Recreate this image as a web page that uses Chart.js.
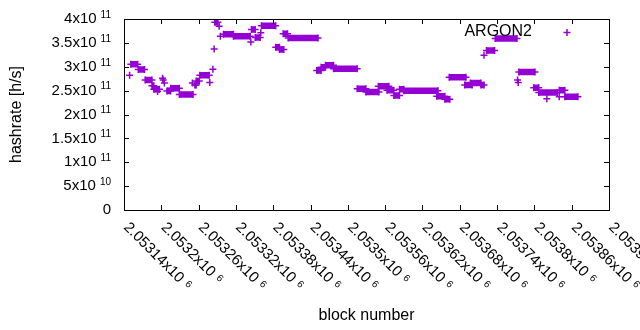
<!DOCTYPE html>
<html>
<head>
<meta charset="utf-8">
<script src="https://cdn.jsdelivr.net/npm/chart.js@4"></script>
<style>
html, body { margin: 0; padding: 0; background: #fff; }
</style>
</head>
<body>
<canvas id="hashChart" width="640" height="330"></canvas>
<script>
// series: runs of blocks sharing the same hashrate (start == end is a single block)
const seriesName = 'ARGON2';
const runStart = [2053149, 2053151, 2053163, 2053174, 2053185, 2053188, 2053194, 2053202, 2053203, 2053205,
  2053209, 2053215, 2053229, 2053250, 2053254, 2053256, 2053262, 2053278, 2053283, 2053285,
  2053286, 2053293, 2053295, 2053300, 2053316, 2053344, 2053345, 2053351, 2053360, 2053361,
  2053384, 2053390, 2053396, 2053404, 2053450, 2053457, 2053464, 2053477, 2053515, 2053529,
  2053549, 2053563, 2053574, 2053583, 2053590, 2053643, 2053656, 2053663, 2053688, 2053697,
  2053714, 2053719, 2053723, 2053737, 2053773, 2053774, 2053775, 2053799, 2053807, 2053820,
  2053840, 2053840, 2053849];
const runEnd = [2053149, 2053162, 2053173, 2053185, 2053188, 2053197, 2053194, 2053202, 2053203, 2053205,
  2053215, 2053229, 2053251, 2053250, 2053256, 2053261, 2053277, 2053278, 2053283, 2053285,
  2053291, 2053293, 2053295, 2053316, 2053343, 2053344, 2053351, 2053359, 2053360, 2053384,
  2053390, 2053397, 2053403, 2053452, 2053457, 2053464, 2053477, 2053515, 2053529, 2053550,
  2053566, 2053574, 2053583, 2053590, 2053645, 2053656, 2053664, 2053690, 2053700, 2053714,
  2053719, 2053719, 2053736, 2053772, 2053773, 2053774, 2053801, 2053807, 2053837, 2053820,
  2053840, 2053849, 2053870];
const runRate = [2.82e11, 3.05e11, 2.94e11, 2.72e11, 2.60e11, 2.53e11, 2.48e11, 2.76e11, 2.72e11, 2.66e11,
  2.49e11, 2.55e11, 2.42e11, 2.66e11, 2.62e11, 2.70e11, 2.82e11, 2.67e11, 2.95e11, 3.37e11,
  3.93e11, 3.85e11, 3.64e11, 3.68e11, 3.64e11, 3.52e11, 3.78e11, 3.61e11, 3.71e11, 3.86e11,
  3.41e11, 3.36e11, 3.69e11, 3.60e11, 2.92e11, 2.99e11, 3.03e11, 2.96e11, 2.54e11, 2.47e11,
  2.59e11, 2.51e11, 2.40e11, 2.53e11, 2.50e11, 2.38e11, 2.32e11, 2.78e11, 2.62e11, 2.66e11,
  2.62e11, 3.24e11, 3.34e11, 3.59e11, 2.72e11, 2.67e11, 2.89e11, 2.56e11, 2.46e11, 2.33e11,
  2.37e11, 2.51e11, 2.37e11];

// axes
const xTicks = [2053140, 2053200, 2053260, 2053320, 2053380, 2053440, 2053500,
  2053560, 2053620, 2053680, 2053740, 2053800, 2053860, 2053920];
const xTickText = ['2.05314x10', '2.0532x10', '2.05326x10', '2.05332x10', '2.05338x10', '2.05344x10', '2.0535x10',
  '2.05356x10', '2.05362x10', '2.05368x10', '2.05374x10', '2.0538x10', '2.05386x10', '2.05392x10'];
const xTickExp = '6';
const yTicks = [0, 5e10, 1e11, 1.5e11, 2e11, 2.5e11, 3e11, 3.5e11, 4e11];
const yTickText = ['0', '5x10', '1x10', '1.5x10', '2x10', '2.5x10', '3x10', '3.5x10', '4x10'];
const yTickExp = ['', '10', '11', '11', '11', '11', '11', '11', '11'];

const purple = '#9400d3';
const fontName = '"Liberation Sans", Arial, sans-serif';

const points = [];
runStart.forEach((s, i) => {
  points.push({ x: s, y: runRate[i] });
  if (runEnd[i] !== s) points.push({ x: runEnd[i], y: runRate[i] });
  points.push({ x: runEnd[i], y: null });
});

// gnuplot-like frame, inward ticks, labels, titles and key
const framePlugin = {
  id: 'frame',
  afterDatasetsDraw(chart) {
    const ctx = chart.ctx;
    const a = chart.chartArea;
    const xs = chart.scales.x, ys = chart.scales.y;
    ctx.save();
    ctx.strokeStyle = '#000';
    ctx.lineWidth = 1;
    ctx.beginPath();
    yTicks.forEach(v => {
      const y = Math.round(ys.getPixelForValue(v)) + 0.5;
      ctx.moveTo(a.left, y); ctx.lineTo(a.left + 5, y);
      ctx.moveTo(a.right, y); ctx.lineTo(a.right - 5, y);
    });
    xTicks.forEach(v => {
      const x = Math.round(xs.getPixelForValue(v)) + 0.5;
      ctx.moveTo(x, a.bottom); ctx.lineTo(x, a.bottom - 5);
      ctx.moveTo(x, a.top); ctx.lineTo(x, a.top + 5);
    });
    ctx.stroke();
    ctx.strokeRect(Math.round(a.left) + 0.5, Math.round(a.top) + 0.5,
      Math.round(a.right - a.left), Math.round(a.bottom - a.top));

    ctx.fillStyle = '#000';
    // y tick labels
    ctx.textBaseline = 'middle';
    ctx.textAlign = 'right';
    yTicks.forEach((v, i) => {
      const y = ys.getPixelForValue(v);
      let right = 111;
      if (yTickExp[i]) {
        ctx.font = '10px ' + fontName;
        ctx.fillText(yTickExp[i], right, y - 4);
        right -= ctx.measureText(yTickExp[i]).width + 4;
      }
      ctx.font = '15px ' + fontName;
      ctx.fillText(yTickText[i], right, y);
    });
    // x tick labels, rotated
    ctx.textAlign = 'left';
    xTicks.forEach((v, i) => {
      const x = xs.getPixelForValue(v);
      ctx.save();
      ctx.translate(x + 2, a.bottom + 15);
      ctx.rotate(Math.PI / 4);
      ctx.font = '15px ' + fontName;
      ctx.fillText(xTickText[i], 0, 0);
      const w = ctx.measureText(xTickText[i]).width;
      ctx.font = '10px ' + fontName;
      ctx.fillText(xTickExp, w + 5, -2);
      ctx.restore();
    });
    // axis titles
    ctx.font = '16px ' + fontName;
    ctx.textAlign = 'center';
    ctx.fillText('block number', (a.left + a.right) / 2, 316);
    ctx.save();
    ctx.translate(17, (a.top + a.bottom) / 2);
    ctx.rotate(-Math.PI / 2);
    ctx.fillText('hashrate [h/s]', 0, 0);
    ctx.restore();
    // key
    ctx.textAlign = 'right';
    ctx.fillText(seriesName, 532, 32);
    ctx.strokeStyle = purple;
    ctx.lineWidth = 1.5;
    ctx.beginPath();
    ctx.moveTo(563.5, 32.5); ctx.lineTo(570.5, 32.5);
    ctx.moveTo(567, 29); ctx.lineTo(567, 36);
    ctx.stroke();
    ctx.restore();
  }
};

new Chart(document.getElementById('hashChart'), {
  type: 'scatter',
  data: {
    datasets: [{
      label: seriesName,
      data: points,
      showLine: true,
      spanGaps: false,
      borderColor: purple,
      backgroundColor: purple,
      borderWidth: 6.5,
      borderCapStyle: 'butt',
      pointStyle: 'cross',
      pointRadius: 3.5,
      pointHoverRadius: 3.5,
      pointBorderWidth: 1.5,
      pointBorderColor: purple
    }]
  },
  options: {
    responsive: false,
    animation: false,
    devicePixelRatio: 1,
    layout: { padding: { left: 124, right: 31, top: 19, bottom: 120 } },
    plugins: { legend: { display: false }, tooltip: { enabled: false } },
    scales: {
      x: { type: 'linear', min: 2053140, max: 2053920, display: false },
      y: { type: 'linear', min: 0, max: 4e11, display: false }
    }
  },
  plugins: [framePlugin]
});
</script>
</body>
</html>
